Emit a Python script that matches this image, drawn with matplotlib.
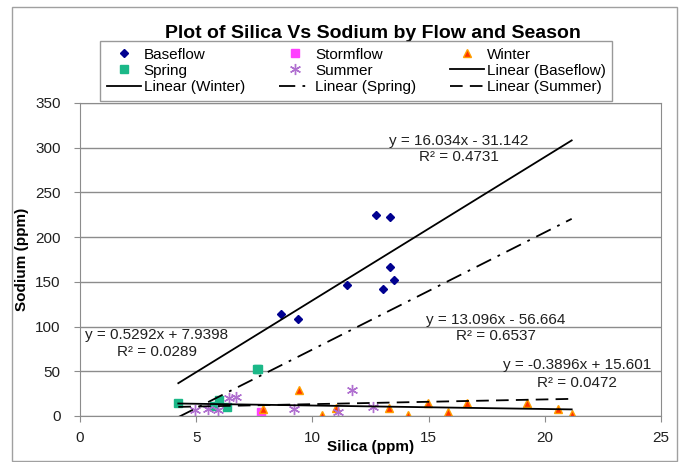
import matplotlib
matplotlib.use('Agg')
import matplotlib.pyplot as plt
from matplotlib.patches import Rectangle
import numpy as np

plt.rcParams['font.family'] = ['Liberation Sans', 'DejaVu Sans']

# silica (x) / sodium (y) readings per group, ppm
baseflow_x = [8.65, 9.38, 11.50, 12.72, 13.05, 13.35, 13.35, 13.51]
baseflow_y = [114, 108.5, 146, 225, 142, 223, 167, 152]
stormflow_x = [7.77]
stormflow_y = [5]
winter_x = [7.88, 9.43, 10.40, 11.02, 13.30, 14.13, 14.96, 15.82, 16.64, 19.22, 20.55, 21.16]
winter_y = [7.8, 29, 1.1, 8.6, 9.3, 1.5, 14.9, 4.8, 14.9, 14.2, 7.5, 2.2]
spring_x = [4.23, 5.78, 6.00, 6.31, 7.60, 7.65]
spring_y = [14.2, 11.2, 17.9, 9.7, 52.6, 52.0]
summer_x = [4.95, 5.52, 5.95, 6.40, 6.70, 9.21, 11.11, 11.72, 12.62]
summer_y = [6.7, 7.5, 6.7, 19.8, 21.6, 7.5, 4.8, 29.1, 10.4]

# trendline coefficients as printed on the chart
trend_names = ['Baseflow', 'Winter', 'Spring', 'Summer']
trend_slope = [16.034, -0.3896, 13.096, 0.5292]
trend_icpt = [-31.142, 15.601, -56.664, 7.9398]
trend_r2 = ['0.4731', '0.0472', '0.6537', '0.0289']
trend_range = [4.23, 21.16]
# where each equation label sits (x, y of equation line, y of R2 line)
label_pos = [(16.3, 308, 290), (21.4, 57, 37), (17.9, 107, 89), (3.3, 91, 71)]

fig = plt.figure(figsize=(6.81, 4.62), dpi=100)
ax = fig.add_axes([0.1175, 0.0996, 0.853, 0.6775])

# outer chart border
fig.patches.append(Rectangle((0.018, 0.002), 0.976, 0.983, transform=fig.transFigure,
                             fill=False, edgecolor='#a0a0a0', linewidth=1.0))

hb, = ax.plot(baseflow_x, baseflow_y, 'D', color='#000090', markersize=4.5, linestyle='none', label='Baseflow')
hst, = ax.plot(stormflow_x, stormflow_y, 's', color='#ff40ff', markersize=6, linestyle='none', label='Stormflow')
hw, = ax.plot(winter_x, winter_y, '^', markerfacecolor='#ff3300', markeredgecolor='#ffa000',
              markersize=6, linestyle='none', label='Winter')
hsp, = ax.plot(spring_x, spring_y, 's', color='#1bb888', markersize=6, linestyle='none', label='Spring')
hsu, = ax.plot(summer_x, summer_y, marker=(6, 2, 0), color='#b070d0', markersize=8,
               markeredgewidth=1.0, linestyle='none', label='Summer')

styles = {'Baseflow': '-', 'Winter': '-', 'Spring': (0, (9, 4, 1.5, 4)), 'Summer': (0, (7, 4))}
xs = np.array(trend_range)
lines = {}
for name, m, b, r2, (lx, ly1, ly2) in zip(trend_names, trend_slope, trend_icpt, trend_r2, label_pos):
    lines[name], = ax.plot(xs, m * xs + b, color='black', linewidth=1.3,
                           linestyle=styles[name], label='Linear (%s)' % name)
    sign = '+' if b >= 0 else '-'
    ax.text(lx, ly1, 'y = %sx %s %s' % (m, sign, abs(b)), ha='center', va='center',
            fontsize=11, color='#202020')
    ax.text(lx, ly2, 'R\u00b2 = %s' % r2, ha='center', va='center', fontsize=11, color='#202020')

ax.set_xlim(0, 25)
ax.set_ylim(0, 350)
ax.set_xticks(range(0, 26, 5))
ax.set_yticks(range(0, 351, 50))
ax.yaxis.grid(True, color='#8c8c8c', linewidth=1.0)
ax.set_axisbelow(True)
for s in ax.spines.values():
    s.set_color('#8c8c8c')
ax.tick_params(colors='#8c8c8c', labelcolor='#202020', labelsize=11, direction='out', length=4)
ax.tick_params(axis='y', pad=10)
ax.tick_params(axis='x', pad=7)

ax.set_xlabel('Silica (ppm)', fontsize=11, fontweight='bold')
ax.set_ylabel('Sodium (ppm)', fontsize=11, fontweight='bold')
ax.xaxis.set_label_coords(0.5, -0.078)
ax.yaxis.set_label_coords(-0.088, 0.5)
fig.text(0.548, 0.928, 'Plot of Silica Vs Sodium by Flow and Season', ha='center', va='center',
         fontsize=14, fontweight='bold')

handles = [hb, hsp, lines['Winter'], hst, hsu, lines['Spring'], hw, lines['Baseflow'], lines['Summer']]
leg = fig.legend(handles=handles, labels=[h.get_label() for h in handles], ncol=3,
                 loc='upper left', bbox_to_anchor=(0.147, 0.912), fontsize=11,
                 frameon=True, fancybox=False, edgecolor='#808080', borderpad=0.45,
                 labelspacing=0.15, handlelength=2.2, handletextpad=0.2, columnspacing=2.2,
                 borderaxespad=0)
leg.get_frame().set_linewidth(1.0)

fig.savefig('out.png', dpi=100)
